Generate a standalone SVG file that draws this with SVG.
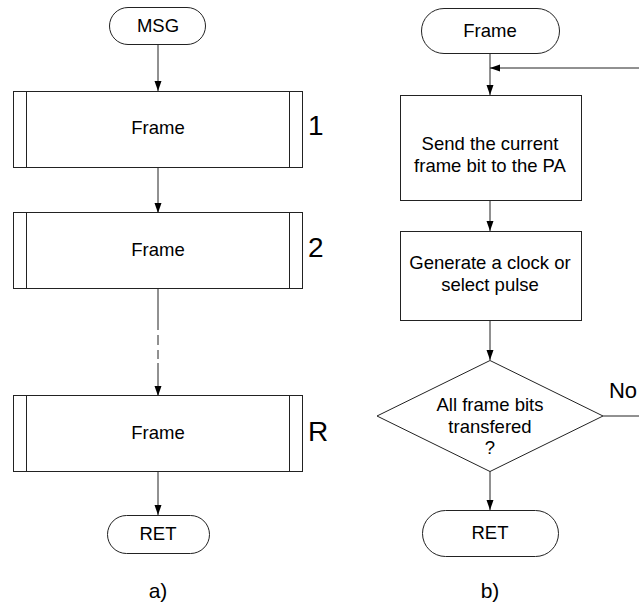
<svg xmlns="http://www.w3.org/2000/svg" width="639" height="606" viewBox="0 0 639 606">
<style>
.s{fill:#fff;stroke:#222;stroke-width:1}
.t{font-family:"Liberation Sans",Arial,sans-serif;font-size:18.5px;fill:#000;text-anchor:middle}
.n{font-family:"Liberation Sans",Arial,sans-serif;font-size:28px;fill:#000}
.c{fill:none;stroke:#222;stroke-width:1}
</style>
<defs>
<marker id="ah" markerWidth="12" markerHeight="12" refX="10" refY="5" orient="auto" markerUnits="userSpaceOnUse">
<path d="M0,1.5 L10,5 L0,8.5 Z" fill="#000"/>
</marker>
</defs>
<rect width="639" height="606" fill="#fff"/>
<g id="connectors">
<line class="c" x1="158" y1="44" x2="158" y2="91" marker-end="url(#ah)"/>
<line class="c" x1="158" y1="167" x2="158" y2="213" marker-end="url(#ah)"/>
<line class="c" x1="158" y1="288" x2="158" y2="330"/>
<line class="c" x1="158" y1="335" x2="158" y2="345"/>
<line class="c" x1="158" y1="350" x2="158" y2="359"/>
<line class="c" x1="158" y1="363" x2="158" y2="396" marker-end="url(#ah)"/>
<line class="c" x1="158" y1="471" x2="158" y2="515" marker-end="url(#ah)"/>
<line class="c" x1="490" y1="54" x2="490" y2="95" marker-end="url(#ah)"/>
<line class="c" x1="490" y1="200" x2="490" y2="231" marker-end="url(#ah)"/>
<line class="c" x1="490" y1="320" x2="490" y2="360" marker-end="url(#ah)"/>
<line class="c" x1="490" y1="471" x2="490" y2="510" marker-end="url(#ah)"/>
<path class="c" d="M603,416 H640 V68 H490" marker-end="url(#ah)"/>
<text class="t" x="623" y="398" style="font-size:22px">No</text>
</g>
<g id="msg">
<rect class="s" x="109.5" y="7.5" width="96" height="37" rx="18.5"/>
<text class="t" x="158" y="32">MSG</text>
</g>
<g id="frame1">
<rect class="s" x="13.5" y="91.5" width="289" height="76"/>
<line class="c" x1="26.5" y1="91.5" x2="26.5" y2="167.5"/>
<line class="c" x1="289.5" y1="91.5" x2="289.5" y2="167.5"/>
<text class="t" x="158" y="134">Frame</text>
<text class="n" x="308" y="135">1</text>
</g>
<g id="frame2">
<rect class="s" x="13.5" y="212.5" width="289" height="76"/>
<line class="c" x1="26.5" y1="212.5" x2="26.5" y2="288.5"/>
<line class="c" x1="289.5" y1="212.5" x2="289.5" y2="288.5"/>
<text class="t" x="158" y="256">Frame</text>
<text class="n" x="308" y="257">2</text>
</g>
<g id="frameR">
<rect class="s" x="13.5" y="395.5" width="289" height="76"/>
<line class="c" x1="26.5" y1="395.5" x2="26.5" y2="471.5"/>
<line class="c" x1="289.5" y1="395.5" x2="289.5" y2="471.5"/>
<text class="t" x="158" y="439">Frame</text>
<text class="n" x="308" y="441">R</text>
</g>
<g id="retA">
<rect class="s" x="107.5" y="515.5" width="102" height="38" rx="19"/>
<text class="t" x="158" y="540">RET</text>
</g>
<g id="frameStart">
<rect class="s" x="421.5" y="8.5" width="138" height="45" rx="22.5"/>
<text class="t" x="490" y="37">Frame</text>
</g>
<g id="send">
<rect class="s" x="400.5" y="95.5" width="181" height="105"/>
<text class="t" x="490" y="150">Send the current</text>
<text class="t" x="490" y="172">frame bit to the PA</text>
</g>
<g id="generate">
<rect class="s" x="400.5" y="231.5" width="181" height="89"/>
<text class="t" x="490" y="269">Generate a clock or</text>
<text class="t" x="490" y="291">select pulse</text>
</g>
<g id="decision">
<polygon class="s" points="490,360.5 603,416 490,471.5 377,416"/>
<text class="t" x="490" y="411">All frame bits</text>
<text class="t" x="490" y="433">transfered</text>
<text class="t" x="490" y="454">?</text>
</g>
<g id="retB">
<rect class="s" x="422.5" y="510.5" width="136" height="46" rx="23"/>
<text class="t" x="490" y="539">RET</text>
</g>
<text class="t" x="158" y="598" style="font-size:21px">a)</text>
<text class="t" x="490" y="598" style="font-size:21px">b)</text>
</svg>
